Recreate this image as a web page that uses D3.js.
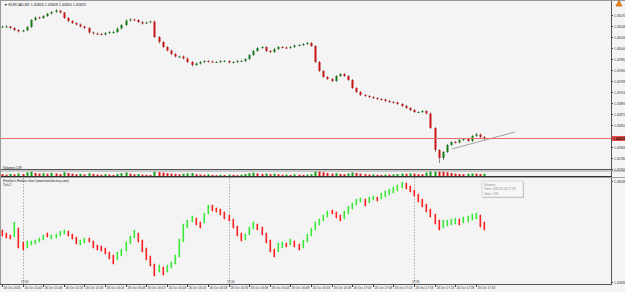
<!DOCTYPE html>
<html>
<head>
<meta charset="utf-8">
<script src="https://cdn.jsdelivr.net/npm/d3@7/dist/d3.min.js"></script>
<style>
  html, body { margin: 0; padding: 0; background: #f4f4f4; }
  svg { display: block; font-family: "Liberation Sans", Arial, sans-serif; }
</style>
</head>
<body>
<script>
// EURCAD M1 candles
var barOpen = [1.46046,1.46047,1.46047,1.46044,1.46040,1.46037,1.46039,1.46046,1.46060,1.46065,1.46064,1.46068,1.46073,1.46076,1.46079,1.46075,1.46064,1.46058,1.46054,1.46051,
  1.46047,1.46044,1.46035,1.46033,1.46032,1.46031,1.46034,1.46036,1.46036,1.46043,1.46050,1.46059,1.46061,1.46060,1.46056,1.46053,1.46055,1.46057,1.46026,1.46016,
  1.46006,1.45999,1.45992,1.45987,1.45987,1.45983,1.45976,1.45970,1.45973,1.45976,1.45978,1.45977,1.45976,1.45976,1.45978,1.45978,1.45975,1.45976,1.45978,1.45978,
  1.45982,1.45990,1.45998,1.46004,1.46006,1.45998,1.45996,1.46002,1.46006,1.46005,1.46004,1.46006,1.46009,1.46010,1.46012,1.46014,1.46008,1.45976,1.45958,1.45946,
  1.45942,1.45938,1.45948,1.45952,1.45948,1.45940,1.45924,1.45916,1.45910,1.45908,1.45906,1.45904,1.45902,1.45901,1.45898,1.45896,1.45895,1.45892,1.45888,1.45884,
  1.45880,1.45876,1.45876,1.45878,1.45873,1.45844,1.45800,1.45784,1.45796,1.45810,1.45816,1.45815,1.45820,1.45822,1.45818,1.45828,1.45831,1.45826];
var barHigh = [1.46049,1.46050,1.46048,1.46046,1.46042,1.46041,1.46048,1.46062,1.46067,1.46067,1.46070,1.46074,1.46078,1.46082,1.46080,1.46076,1.46066,1.46060,1.46056,1.46053,
  1.46049,1.46046,1.46037,1.46035,1.46034,1.46036,1.46038,1.46039,1.46045,1.46052,1.46061,1.46064,1.46063,1.46062,1.46058,1.46057,1.46059,1.46059,1.46028,1.46018,
  1.46008,1.46001,1.45994,1.45989,1.45989,1.45985,1.45978,1.45975,1.45978,1.45980,1.45980,1.45979,1.45978,1.45980,1.45980,1.45980,1.45978,1.45980,1.45980,1.45984,
  1.45992,1.46000,1.46006,1.46008,1.46008,1.46000,1.46004,1.46008,1.46008,1.46007,1.46008,1.46011,1.46012,1.46014,1.46016,1.46016,1.46010,1.45978,1.45960,1.45948,
  1.45944,1.45950,1.45954,1.45954,1.45950,1.45942,1.45926,1.45918,1.45912,1.45910,1.45908,1.45906,1.45904,1.45903,1.45900,1.45898,1.45897,1.45894,1.45890,1.45886,
  1.45882,1.45878,1.45880,1.45880,1.45875,1.45846,1.45802,1.45798,1.45812,1.45818,1.45818,1.45822,1.45824,1.45824,1.45830,1.45834,1.45833,1.45828];
var barLow = [1.46044,1.46045,1.46042,1.46038,1.46035,1.46036,1.46038,1.46044,1.46058,1.46062,1.46062,1.46066,1.46071,1.46074,1.46073,1.46062,1.46056,1.46052,1.46049,1.46045,
  1.46042,1.46033,1.46031,1.46030,1.46029,1.46029,1.46032,1.46033,1.46034,1.46041,1.46048,1.46057,1.46058,1.46054,1.46051,1.46052,1.46054,1.46024,1.46013,1.46004,
  1.45997,1.45990,1.45985,1.45984,1.45981,1.45974,1.45967,1.45968,1.45971,1.45974,1.45975,1.45974,1.45974,1.45974,1.45976,1.45973,1.45973,1.45974,1.45976,1.45976,
  1.45980,1.45988,1.45996,1.46002,1.45996,1.45994,1.45994,1.46000,1.46003,1.46002,1.46002,1.46004,1.46007,1.46008,1.46010,1.46006,1.45974,1.45956,1.45944,1.45940,
  1.45936,1.45936,1.45946,1.45946,1.45938,1.45922,1.45914,1.45908,1.45906,1.45904,1.45902,1.45900,1.45899,1.45896,1.45894,1.45893,1.45890,1.45886,1.45882,1.45878,
  1.45874,1.45874,1.45874,1.45871,1.45842,1.45796,1.45774,1.45780,1.45794,1.45808,1.45813,1.45813,1.45818,1.45816,1.45816,1.45826,1.45824,1.45820];
var barClose = [1.46047,1.46047,1.46044,1.46040,1.46037,1.46039,1.46046,1.46060,1.46065,1.46064,1.46068,1.46073,1.46076,1.46079,1.46075,1.46064,1.46058,1.46054,1.46051,1.46047,
  1.46044,1.46035,1.46033,1.46032,1.46031,1.46034,1.46036,1.46036,1.46043,1.46050,1.46059,1.46061,1.46060,1.46056,1.46053,1.46055,1.46057,1.46026,1.46016,1.46006,
  1.45999,1.45992,1.45987,1.45987,1.45983,1.45976,1.45970,1.45973,1.45976,1.45978,1.45977,1.45976,1.45976,1.45978,1.45978,1.45975,1.45976,1.45978,1.45978,1.45982,
  1.45990,1.45998,1.46004,1.46006,1.45998,1.45996,1.46002,1.46006,1.46005,1.46004,1.46006,1.46009,1.46010,1.46012,1.46014,1.46008,1.45976,1.45958,1.45946,1.45942,
  1.45938,1.45948,1.45952,1.45948,1.45940,1.45924,1.45916,1.45910,1.45908,1.45906,1.45904,1.45902,1.45901,1.45898,1.45896,1.45895,1.45892,1.45888,1.45884,1.45880,
  1.45876,1.45876,1.45878,1.45873,1.45844,1.45800,1.45784,1.45796,1.45810,1.45816,1.45815,1.45820,1.45822,1.45818,1.45828,1.45831,1.45826,1.45823];

// Volumes subwindow
var volumes = [120,95,140,110,160,130,210,250,180,150,170,140,190,160,130,220,180,150,120,140,
  110,170,130,100,90,120,100,80,130,170,210,150,110,130,100,90,80,290,230,200,
  170,150,130,110,140,160,180,120,100,90,110,80,70,90,75,100,85,70,95,130,
  170,200,160,130,150,120,140,110,90,100,80,110,95,85,100,120,300,260,220,180,
  150,170,130,120,160,210,180,150,120,100,110,90,85,100,95,110,130,150,140,160,
  150,120,110,200,280,320,300,250,220,180,150,130,120,140,160,150,130,139];

// Heiken chart subwindow
var haOpen = [1.45940,1.45934,1.45930,1.45926,1.45944,1.45916,1.45904,1.45910,1.45912,1.45916,1.45920,1.45934,1.45922,1.45924,1.45928,1.45932,1.45938,1.45932,1.45926,1.45910,
  1.45914,1.45924,1.45918,1.45910,1.45908,1.45904,1.45896,1.45890,1.45880,1.45888,1.45898,1.45912,1.45924,1.45934,1.45920,1.45904,1.45888,1.45872,1.45856,1.45866,
  1.45856,1.45864,1.45872,1.45886,1.45916,1.45944,1.45956,1.45964,1.45956,1.45954,1.45972,1.45990,1.45984,1.45982,1.45976,1.45970,1.45962,1.45948,1.45934,1.45920,
  1.45930,1.45942,1.45952,1.45946,1.45934,1.45920,1.45902,1.45896,1.45904,1.45914,1.45910,1.45918,1.45912,1.45904,1.45916,1.45928,1.45940,1.45950,1.45958,1.45966,
  1.45980,1.45976,1.45970,1.45962,1.45972,1.45982,1.45990,1.45996,1.46002,1.45994,1.46000,1.46006,1.46002,1.46006,1.46010,1.46014,1.46018,1.46024,1.46034,1.46028,
  1.46020,1.46012,1.46002,1.45992,1.45982,1.45972,1.45960,1.45944,1.45948,1.45950,1.45952,1.45962,1.45954,1.45956,1.45960,1.45962,1.45970,1.45956];
var haHigh = [1.45942,1.45936,1.45932,1.45958,1.45946,1.45918,1.45920,1.45920,1.45922,1.45926,1.45932,1.45936,1.45932,1.45934,1.45940,1.45942,1.45940,1.45934,1.45928,1.45922,
  1.45926,1.45926,1.45920,1.45912,1.45910,1.45906,1.45898,1.45892,1.45898,1.45904,1.45918,1.45930,1.45942,1.45936,1.45922,1.45906,1.45890,1.45874,1.45872,1.45868,
  1.45872,1.45878,1.45892,1.45924,1.45954,1.45962,1.45970,1.45966,1.45958,1.45976,1.45992,1.45992,1.45986,1.45984,1.45978,1.45972,1.45964,1.45950,1.45936,1.45934,
  1.45948,1.45958,1.45954,1.45948,1.45936,1.45922,1.45904,1.45916,1.45918,1.45916,1.45924,1.45920,1.45914,1.45922,1.45934,1.45946,1.45958,1.45964,1.45972,1.45980,
  1.45982,1.45978,1.45972,1.45980,1.45990,1.45996,1.46004,1.46006,1.46004,1.46008,1.46010,1.46008,1.46016,1.46020,1.46024,1.46028,1.46032,1.46038,1.46036,1.46030,
  1.46022,1.46014,1.46004,1.45994,1.45984,1.45974,1.45962,1.45962,1.45962,1.45964,1.45966,1.45964,1.45968,1.45970,1.45974,1.45976,1.45972,1.45958];
var haLow = [1.45926,1.45922,1.45920,1.45924,1.45902,1.45898,1.45902,1.45908,1.45910,1.45914,1.45918,1.45924,1.45920,1.45922,1.45926,1.45930,1.45926,1.45920,1.45910,1.45908,
  1.45912,1.45914,1.45902,1.45898,1.45896,1.45890,1.45880,1.45870,1.45878,1.45886,1.45896,1.45910,1.45922,1.45914,1.45894,1.45878,1.45866,1.45846,1.45854,1.45848,
  1.45854,1.45862,1.45870,1.45884,1.45914,1.45942,1.45954,1.45948,1.45942,1.45952,1.45970,1.45976,1.45974,1.45968,1.45960,1.45956,1.45942,1.45926,1.45916,1.45918,
  1.45928,1.45940,1.45938,1.45928,1.45912,1.45894,1.45884,1.45894,1.45902,1.45904,1.45908,1.45904,1.45898,1.45902,1.45914,1.45926,1.45938,1.45948,1.45956,1.45964,
  1.45970,1.45962,1.45956,1.45960,1.45970,1.45980,1.45988,1.45994,1.45986,1.45992,1.45998,1.45996,1.46000,1.46004,1.46008,1.46012,1.46016,1.46022,1.46020,1.46014,
  1.46006,1.45994,1.45984,1.45974,1.45964,1.45950,1.45938,1.45942,1.45946,1.45948,1.45950,1.45948,1.45952,1.45954,1.45958,1.45960,1.45944,1.45938];
var haClose = [1.45928,1.45924,1.45922,1.45956,1.45904,1.45900,1.45918,1.45918,1.45920,1.45924,1.45930,1.45926,1.45930,1.45932,1.45938,1.45940,1.45928,1.45922,1.45912,1.45920,
  1.45924,1.45916,1.45904,1.45900,1.45898,1.45892,1.45882,1.45872,1.45896,1.45902,1.45916,1.45928,1.45940,1.45916,1.45896,1.45880,1.45868,1.45848,1.45870,1.45850,
  1.45870,1.45876,1.45890,1.45922,1.45952,1.45960,1.45968,1.45950,1.45944,1.45974,1.45990,1.45978,1.45976,1.45970,1.45962,1.45958,1.45944,1.45928,1.45918,1.45932,
  1.45946,1.45956,1.45940,1.45930,1.45914,1.45896,1.45886,1.45914,1.45916,1.45906,1.45922,1.45906,1.45900,1.45920,1.45932,1.45944,1.45956,1.45962,1.45970,1.45978,
  1.45972,1.45964,1.45958,1.45978,1.45988,1.45994,1.46002,1.46004,1.45988,1.46006,1.46008,1.45998,1.46014,1.46018,1.46022,1.46026,1.46030,1.46036,1.46022,1.46016,
  1.46008,1.45996,1.45986,1.45976,1.45966,1.45952,1.45940,1.45960,1.45960,1.45962,1.45964,1.45950,1.45966,1.45968,1.45972,1.45974,1.45946,1.45940];

// axis texts (the tick under the bid label is hidden there)
var priceTicks = [1.46070,1.46048,1.46026,1.46004,1.45982,1.45960,1.45938,1.45916,1.45894,1.45872,1.45850,1.45806,1.45784,1.45762];
var haTicks = [1.46038,1.45836];
var timeTickBars = [0,5,10,15,20,25,30,35,40,45,50,55,60,65,70,75,80,85,90,95,100,105,110,115];
var timeTickLabels = ["26 Oct 2016","26 Oct 15:43","26 Oct 15:48","26 Oct 15:53","26 Oct 15:58","26 Oct 16:03","26 Oct 16:08","26 Oct 16:13",
  "26 Oct 16:18","26 Oct 16:23","26 Oct 16:28","26 Oct 16:33","26 Oct 16:38","26 Oct 16:43","26 Oct 16:48","26 Oct 16:53",
  "26 Oct 16:58","26 Oct 17:03","26 Oct 17:08","26 Oct 17:13","26 Oct 17:18","26 Oct 17:23","26 Oct 17:28","26 Oct 17:33"];
var sepBars = [5, 55, 100];
var sepLabels = ["17:05", "17:20", "17:35"];
var trendBars = [109.2, 124.5];
var trendPrices = [1.45802, 1.45836];
var bidPrice = 1.45823;

var svg,
    w = 625,
    h = 292,
    plotRight = 611,
    mainTop = 0, mainBottom = 170,
    volTop = 171, volBottom = 177,
    indTop = 178, indBottom = 284;

var x = d3.scaleLinear().domain([0, 117]).range([2, 484]);
var yMain = d3.scaleLinear().domain([1.45760, 1.46100]).range([mainBottom, mainTop]);
var yVol = d3.scaleLinear().domain([0, 260]).range([volBottom - 0.5, volTop + 0.5]).clamp(true);
var yInd = d3.scaleLinear().domain([1.45832, 1.46044]).range([indBottom, indTop]);
var fmt = d3.format(".5f");

function init(){
  svg = d3.select("body").append("svg")
      .attr("width", w)
      .attr("height", h);

  svg.append("rect").attr("width", w).attr("height", h).attr("fill", "#f4f4f4");

  draw_main();
  draw_volumes();
  draw_heiken();
  draw_frame();
  draw_axes();
}

function draw_main(){
  var g = svg.append("g");
  var idx = d3.range(barClose.length);

  g.selectAll("line.wick").data(idx).enter().append("line")
      .attr("x1", function(i){ return Math.round(x(i)) + 0.5; })
      .attr("x2", function(i){ return Math.round(x(i)) + 0.5; })
      .attr("y1", function(i){ return yMain(barHigh[i]); })
      .attr("y2", function(i){ return yMain(barLow[i]); })
      .attr("stroke", "#8a8a8a")
      .attr("stroke-width", 1);

  g.selectAll("rect.body").data(idx).enter().append("rect")
      .attr("x", function(i){ return Math.round(x(i)) - 0.5; })
      .attr("y", function(i){ return yMain(Math.max(barOpen[i], barClose[i])); })
      .attr("width", 2)
      .attr("height", function(i){ return Math.max(1, Math.abs(yMain(barOpen[i]) - yMain(barClose[i]))); })
      .attr("fill", function(i){ return barClose[i] >= barOpen[i] ? "#157a15" : "#c81414"; });

  // trend line
  g.append("line")
      .attr("x1", x(trendBars[0])).attr("y1", yMain(trendPrices[0]))
      .attr("x2", x(trendBars[1])).attr("y2", yMain(trendPrices[1]))
      .attr("stroke", "#8c8c8c").attr("stroke-width", 0.8);

  // bid line
  g.append("line")
      .attr("x1", 0).attr("x2", plotRight)
      .attr("y1", yMain(bidPrice)).attr("y2", yMain(bidPrice))
      .attr("stroke", "#f07070").attr("stroke-width", 1);

  g.append("text")
      .attr("x", 4).attr("y", 6)
      .attr("font-size", "3.6px").attr("fill", "#222")
      .text("\u25BC EURCAD,M1  1.45826 1.45828 1.45820 1.45823");
}

function draw_volumes(){
  var g = svg.append("g");
  var idx = d3.range(volumes.length);
  g.selectAll("rect").data(idx).enter().append("rect")
      .attr("x", function(i){ return Math.round(x(i)) - 0.5; })
      .attr("y", function(i){ return yVol(volumes[i]); })
      .attr("width", 2)
      .attr("height", function(i){ return yVol(0) - yVol(volumes[i]); })
      .attr("fill", function(i){ return i > 0 && volumes[i] > volumes[i - 1] ? "#12a012" : "#e01a1a"; });

  g.append("text")
      .attr("x", 3).attr("y", 169)
      .attr("font-size", "3.2px").attr("fill", "#222")
      .text("Volumes 139");
}

function draw_heiken(){
  var g = svg.append("g");
  var idx = d3.range(haClose.length);

  // separators
  g.selectAll("line.sep").data(sepBars).enter().append("line")
      .attr("x1", function(d){ return Math.round(x(d)) + 0.5; })
      .attr("x2", function(d){ return Math.round(x(d)) + 0.5; })
      .attr("y1", indTop).attr("y2", indBottom)
      .attr("stroke", "#9a9a9a").attr("stroke-width", 0.8)
      .attr("stroke-dasharray", "1.5,1.5");
  g.selectAll("text.sep").data(sepBars).enter().append("text")
      .attr("x", function(d){ return Math.round(x(d)) - 2; })
      .attr("y", indBottom - 1.5)
      .attr("font-size", "3px").attr("fill", "#333")
      .text(function(d, k){ return sepLabels[k]; });

  function col(i){ return haClose[i] >= haOpen[i] ? "#3ae83a" : "#ff1f1f"; }

  g.selectAll("line.wick").data(idx).enter().append("line")
      .attr("x1", function(i){ return Math.round(x(i)) + 0.5; })
      .attr("x2", function(i){ return Math.round(x(i)) + 0.5; })
      .attr("y1", function(i){ return yInd(haHigh[i]); })
      .attr("y2", function(i){ return yInd(haLow[i]); })
      .attr("stroke", col).attr("stroke-opacity", 0.35)
      .attr("stroke-width", 1);

  g.selectAll("rect.body").data(idx).enter().append("rect")
      .attr("x", function(i){ return Math.round(x(i)) - 0.5; })
      .attr("y", function(i){ return yInd(Math.max(haOpen[i], haClose[i])); })
      .attr("width", 1.6)
      .attr("height", function(i){ return Math.max(1, Math.abs(yInd(haOpen[i]) - yInd(haClose[i]))); })
      .attr("fill", col);

  g.append("text").attr("x", 3).attr("y", 181.5)
      .attr("font-size", "3.2px").attr("fill", "#222")
      .text("Renkko's Heiken chart (www.forexfactory.com)");
  g.append("text").attr("x", 3).attr("y", 185.5)
      .attr("font-size", "3.2px").attr("fill", "#222")
      .text("Tick 2");

  // tooltip
  var tip = g.append("g").attr("transform", "translate(482,181)");
  tip.append("rect").attr("x", 1).attr("y", 1).attr("width", 41).attr("height", 16).attr("fill", "#c8c8c8");
  tip.append("rect").attr("width", 41).attr("height", 16).attr("fill", "#f7f7f7").attr("stroke", "#bdbdbd").attr("stroke-width", 0.5);
  ["Volumes", "Time: 2016.10.26 17:35", "Value: 139"].forEach(function(t, k){
    tip.append("text").attr("x", 2).attr("y", 4.5 + k * 4.5)
        .attr("font-size", "3px").attr("fill", "#888").text(t);
  });
}

function draw_frame(){
  var g = svg.append("g").attr("fill", "none");
  g.append("line").attr("x1", plotRight + 0.5).attr("x2", plotRight + 0.5).attr("y1", 0).attr("y2", indBottom)
      .attr("stroke", "#555").attr("stroke-width", 1);
  g.append("line").attr("x1", 0).attr("x2", plotRight + 1).attr("y1", mainBottom - 0.5).attr("y2", mainBottom - 0.5)
      .attr("stroke", "#555");
  g.append("line").attr("x1", 0).attr("x2", w).attr("y1", mainBottom + 1).attr("y2", mainBottom + 1)
      .attr("stroke", "#a0a0a0");
  g.append("line").attr("x1", 0).attr("x2", plotRight + 1).attr("y1", volBottom - 0.5).attr("y2", volBottom - 0.5)
      .attr("stroke", "#333");
  g.append("line").attr("x1", 0).attr("x2", w).attr("y1", volBottom + 0.5).attr("y2", volBottom + 0.5)
      .attr("stroke", "#a0a0a0");
  g.append("line").attr("x1", 0).attr("x2", plotRight + 1).attr("y1", indBottom + 0.5).attr("y2", indBottom + 0.5)
      .attr("stroke", "#555");
  g.append("line").attr("x1", 0.5).attr("x2", 0.5).attr("y1", 0).attr("y2", indBottom)
      .attr("stroke", "#9a9a9a");
  g.append("line").attr("x1", 0).attr("x2", w).attr("y1", 0.5).attr("y2", 0.5)
      .attr("stroke", "#9a9a9a");
}

function draw_axes(){
  var ax = d3.axisRight(yMain).tickValues(priceTicks).tickSize(1.5).tickPadding(1).tickFormat(fmt);
  var ga = svg.append("g").attr("transform", "translate(" + (plotRight + 0.5) + ",0)").call(ax);
  ga.select(".domain").remove();
  ga.selectAll("text").attr("font-size", "3.2px").attr("fill", "#333").attr("font-family", "Liberation Sans, Arial, sans-serif");
  ga.selectAll("line").attr("stroke", "#444");

  var ai = d3.axisRight(yInd).tickValues(haTicks).tickSize(1.5).tickPadding(1).tickFormat(fmt);
  var gi = svg.append("g").attr("transform", "translate(" + (plotRight + 0.5) + ",0)").call(ai);
  gi.select(".domain").remove();
  gi.selectAll("text").attr("font-size", "3.2px").attr("fill", "#333").attr("font-family", "Liberation Sans, Arial, sans-serif");
  gi.selectAll("line").attr("stroke", "#444");

  // bid label
  svg.append("rect").attr("x", plotRight + 1).attr("y", yMain(bidPrice) - 2.5).attr("width", 13).attr("height", 5).attr("fill", "#ef4a4a");
  svg.append("text").attr("x", plotRight + 2).attr("y", yMain(bidPrice) + 1.3)
      .attr("font-size", "3.4px").attr("font-weight", "bold").attr("fill", "#111").text(fmt(bidPrice));

  // alert marker
  svg.append("path").attr("d", "M619,0.5 L622,6 L616,6 Z").attr("fill", "#ff8a00").attr("stroke", "#8a3a00").attr("stroke-width", 0.5);

  // time axis
  var tx = svg.append("g").attr("transform", "translate(0," + (indBottom + 1) + ")");
  var tk = tx.selectAll("g").data(timeTickBars).enter().append("g")
      .attr("transform", function(d){ return "translate(" + (Math.round(x(d)) + 0.5) + ",0)"; });
  tk.append("line").attr("y1", 0).attr("y2", 2).attr("stroke", "#444");
  tk.append("text").attr("x", 1).attr("y", 4).attr("font-size", "3.1px").attr("fill", "#333")
      .text(function(d, k){ return timeTickLabels[k]; });
}

init();
</script>
</body>
</html>
